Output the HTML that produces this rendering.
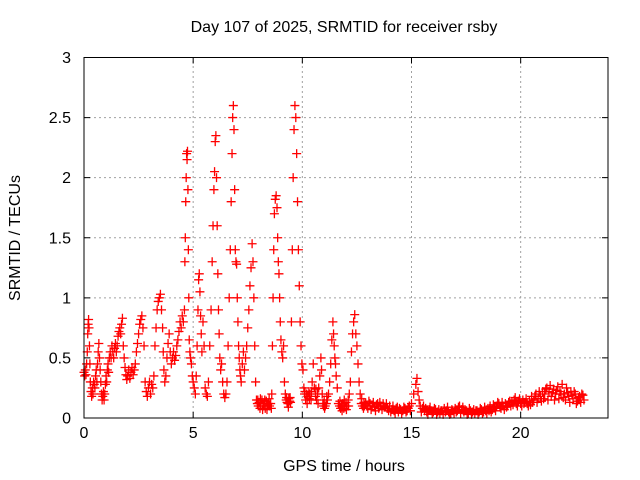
<!DOCTYPE html>
<html><head><meta charset="utf-8"><style>
body{margin:0;background:#fff;}
svg{display:block;font-family:"Liberation Sans",sans-serif;}
</style></head><body>
<svg id="chart" width="640" height="480" viewBox="0 0 640 480">
<rect width="640" height="480" fill="#fff"/>
<text x="344" y="32" font-size="16" text-anchor="middle" fill="#000">Day 107 of 2025, SRMTID for receiver rsby</text>
<g id="grid"></g>
<g id="marks"></g>
<rect x="84" y="57.5" width="524" height="360.5" fill="none" stroke="#000" stroke-width="1"/>
<g id="axes"></g>
<text x="344" y="471" font-size="16" text-anchor="middle">GPS time / hours</text>
<text transform="translate(20,238) rotate(-90)" font-size="16" text-anchor="middle">SRMTID / TECUs</text>
</svg>
<script>
const xTicks=[0,5,10,15,20];
const yTicks=[0,0.5,1,1.5,2,2.5,3];
const yTickLabels=["0","0.5","1","1.5","2","2.5","3"];
// samples: [GPS hour, SRMTID TECU]
const samples=[
[0,.38],[.03,.35],[.06,.4],[.09,.36],[.12,.45],[.15,.55],[.17,.7],[.19,.78],[.21,.82],[.23,.75],[.25,.6],[.27,.45],[.29,.3],[.32,.22],[.35,.18],[.38,.25],[.41,.2],[.44,.3],[.47,.28],[.5,.25],
[.53,.35],[.56,.4],[.59,.3],[.62,.45],[.65,.55],[.68,.62],[.71,.5],[.74,.4],[.77,.3],[.8,.2],[.83,.15],[.86,.18],[.89,.22],[.92,.15],[.95,.2],[.98,.28],
[1.01,.35],[1.04,.3],[1.07,.4],[1.1,.45],[1.13,.38],[1.16,.5],[1.2,.55],[1.24,.5],[1.28,.6],[1.32,.55],[1.36,.5],[1.4,.58],[1.44,.62],[1.48,.55],[1.52,.6],[1.56,.68],[1.6,.72],[1.64,.75],[1.68,.7],[1.72,.78],[1.76,.83],[1.8,.6],[1.84,.5],[1.88,.42],[1.92,.36],[1.96,.32],
[2.0,.35],[2.05,.4],[2.1,.33],[2.15,.38],[2.2,.42],[2.25,.36],[2.3,.4],[2.35,.45],[2.4,.55],[2.45,.62],[2.5,.7],[2.55,.78],[2.6,.82],[2.65,.85],[2.7,.75],[2.75,.6],[2.8,.3],[2.85,.22],[2.9,.18],[2.95,.25],
[3.0,.3],[3.05,.2],[3.1,.28],[3.15,.25],[3.2,.35],[3.25,.6],[3.3,.75],[3.35,.9],[3.4,.97],[3.45,1.0],[3.5,1.03],[3.55,.9],[3.6,.75],[3.63,.55],[3.66,.4],[3.7,.3],[3.75,.35],[3.8,.5],[3.85,.62],[3.9,.7],[3.95,.55],
[4.0,.45],[4.05,.5],[4.1,.55],[4.15,.48],[4.2,.52],[4.25,.6],[4.3,.65],[4.35,.72],[4.4,.8],[4.45,.75],[4.5,.85],[4.55,.8],[4.6,.9],[4.62,1.3],[4.64,1.5],[4.66,1.8],[4.68,2.0],[4.7,2.2],[4.72,2.15],[4.74,2.22],[4.76,1.9],[4.78,1.4],[4.8,1.0],[4.82,.65],[4.85,.55],[4.88,.5],[4.92,.45],[4.96,.35],
[5.0,.3],[5.05,.25],[5.1,.2],[5.14,.35],[5.18,.6],[5.22,.9],[5.25,1.15],[5.28,1.2],[5.31,1.05],[5.34,.85],[5.37,.7],[5.4,.55],[5.45,.8],[5.5,.6],[5.55,.25],[5.6,.2],[5.65,.18],[5.7,.3],[5.76,.6],[5.82,.9],[5.87,1.3],[5.91,1.6],[5.95,1.9],[5.98,2.05],[6.01,2.3],[6.04,2.35],[6.07,2.0],[6.1,1.6],[6.13,1.2],[6.16,.9],[6.19,.7],[6.22,.5],[6.26,.4],[6.3,.45],[6.35,.3],[6.4,.2],[6.45,.17],[6.5,.2],[6.55,.3],[6.6,.6],[6.65,1.0],[6.7,1.4],[6.74,1.8],[6.78,2.2],[6.81,2.5],[6.84,2.6],[6.87,2.4],[6.9,1.9],[6.93,1.4],[6.96,1.3],[6.99,1.28],[7.02,1.0],
[7.05,.8],[7.08,.6],[7.11,.5],[7.14,.4],[7.17,.35],[7.2,.3],[7.25,.45],[7.3,.55],[7.35,.4],[7.4,.5],[7.45,.6],[7.5,.75],[7.55,.9],[7.6,1.1],[7.65,1.25],[7.7,1.45],[7.74,1.3],[7.78,1.0],[7.82,.6],[7.86,.3],[7.9,.15],[7.94,.12],[7.98,.1],[8.02,.13],[8.06,.08],[8.1,.12],[8.15,.15],[8.2,.1],[8.25,.12],[8.3,.08],[8.35,.14],[8.4,.1],[8.45,.12],[8.5,.1],[8.55,.12],[8.6,.2],[8.63,.6],[8.66,1.0],[8.69,1.4],[8.72,1.7],[8.76,1.82],[8.8,1.85],[8.84,1.75],[8.87,1.5],[8.9,1.3],[8.93,1.2],[8.96,1.0],[8.99,.8],
[9.02,.65],[9.06,.55],[9.1,.5],[9.14,.6],[9.18,.3],[9.22,.2],[9.26,.15],[9.3,.13],[9.34,.12],[9.38,.16],[9.42,.14],[9.46,.13],[9.5,.8],[9.54,1.4],[9.58,2.0],[9.62,2.4],[9.66,2.6],[9.7,2.5],[9.74,2.2],[9.78,1.8],[9.82,1.4],[9.86,1.1],[9.9,.8],[9.94,.6],[9.98,.45],
[10.03,.4],[10.07,.25],[10.1,.2],[10.15,.15],[10.2,.2],[10.25,.18],[10.3,.22],[10.35,.2],[10.4,.15],[10.45,.3],[10.5,.45],[10.55,.25],[10.6,.18],[10.65,.15],[10.7,.2],[10.75,.25],[10.8,.35],[10.85,.5],[10.88,.4],[10.91,.2],[10.94,.12],[10.97,.1],
[11.0,.15],[11.05,.1],[11.1,.12],[11.15,.15],[11.2,.2],[11.25,.3],[11.3,.45],[11.35,.65],[11.4,.8],[11.43,.7],[11.46,.6],[11.49,.5],[11.52,.45],[11.55,.35],[11.6,.25],[11.65,.12],[11.7,.1],[11.75,.08],[11.8,.1],[11.85,.12],[11.9,.08],[11.95,.1],
[12.0,.13],[12.05,.1],[12.1,.15],[12.15,.2],[12.2,.3],[12.25,.55],[12.3,.7],[12.35,.8],[12.4,.86],[12.45,.7],[12.5,.6],[12.55,.45],[12.6,.3],[12.65,.2],[12.7,.12],[12.75,.1],[12.8,.08],[12.85,.1],[12.9,.12],[12.95,.1],
[13.0,.08],[13.1,.12],[13.2,.1],[13.3,.09],[13.4,.11],[13.5,.08],[13.6,.1],[13.7,.12],[13.8,.09],[13.9,.08],
[14.0,.1],[14.1,.07],[14.2,.06],[14.3,.08],[14.4,.05],[14.5,.07],[14.6,.06],[14.7,.08],[14.8,.06],[14.9,.1],[15.0,.12],[15.1,.2],[15.2,.28],[15.25,.33],[15.3,.22],[15.35,.15],[15.4,.1],[15.5,.08],[15.6,.06],[15.7,.05],[15.8,.07],[15.9,.06],
[16.0,.05],[16.1,.07],[16.2,.05],[16.3,.04],[16.4,.06],[16.5,.08],[16.6,.06],[16.7,.05],[16.8,.04],[16.9,.06],[17.0,.08],[17.1,.06],[17.2,.1],[17.3,.07],[17.4,.05],[17.5,.06],[17.6,.04],[17.7,.06],[17.8,.05],[17.9,.04],
[18.0,.06],[18.1,.05],[18.2,.07],[18.3,.05],[18.4,.06],[18.5,.08],[18.6,.1],[18.7,.07],[18.8,.09],[18.9,.1],[19.0,.12],[19.1,.08],[19.2,.1],[19.3,.12],[19.4,.1],[19.5,.14],[19.6,.13],[19.7,.15],[19.8,.12],[19.9,.14],
[20.0,.12],[20.1,.15],[20.2,.13],[20.3,.12],[20.4,.14],[20.5,.18],[20.6,.15],[20.7,.2],[20.8,.16],[20.9,.18],[21.0,.22],[21.1,.2],[21.2,.25],[21.3,.22],[21.4,.18],[21.5,.24],[21.6,.2],[21.7,.26],[21.8,.22],[21.9,.28],
[22.0,.2],[22.1,.25],[22.2,.18],[22.3,.22],[22.4,.16],[22.5,.2],[22.6,.14],[22.7,.18],[22.8,.2],[22.9,.15],
[13.05,.14],[13.15,.07],[13.25,.13],[13.35,.06],[13.45,.12],[13.55,.13],[13.65,.07],[13.75,.09],[13.85,.12],[13.95,.06],
[14.05,.05],[14.15,.1],[14.25,.04],[14.35,.09],[14.45,.08],[14.55,.04],[14.65,.09],[14.75,.05],[14.85,.08],[14.95,.06],
[15.45,.05],[15.55,.1],[15.65,.08],[15.75,.03],[15.85,.09],[15.95,.04],[16.05,.08],[16.15,.03],[16.25,.07],[16.35,.06],
[16.45,.03],[16.55,.05],[16.65,.09],[16.75,.03],[16.85,.07],[16.95,.04],[17.05,.05],[17.15,.09],[17.25,.04],[17.35,.09],
[17.45,.07],[17.55,.03],[17.65,.08],[17.75,.03],[17.85,.07],[17.95,.06],[18.05,.03],[18.15,.08],[18.25,.04],[18.35,.09],
[18.45,.04],[18.55,.06],[18.65,.05],[18.75,.11],[18.85,.06],[18.95,.13],[19.05,.09],[19.15,.13],[19.25,.07],[19.35,.09],
[19.45,.13],[19.55,.1],[19.65,.11],[19.75,.17],[19.85,.1],[19.95,.16],[20.05,.1],[20.15,.12],[20.25,.16],[20.35,.1],
[20.45,.11],[20.55,.13],[20.65,.18],[20.75,.13],[20.85,.22],[20.95,.14],[21.05,.16],[21.15,.24],[21.25,.15],[21.35,.27],
[21.45,.21],[21.55,.15],[21.65,.23],[21.75,.16],[21.85,.2],[21.95,.17],[22.05,.15],[22.15,.21],[22.25,.13],[22.35,.19],
[22.45,.22],[22.55,.12],[22.65,.17],[22.75,.13],[22.85,.19],
[10.12,.22],[10.22,.12],[10.32,.16],[10.42,.22],[10.62,.24],[10.72,.12],[11.02,.08],[11.12,.18],[11.72,.14],[11.82,.06],[11.92,.15],[12.02,.07],[12.12,.1],[12.72,.16],[12.82,.13],
[7.96,.15],[8.08,.16],[8.18,.07],[8.28,.15],[8.38,.07],[8.48,.16],[8.58,.08],[9.28,.17],[9.36,.09],[9.44,.17]];
const X0=84,XW=524,XMAX=24,Y0=418,YH=360.5,YMAX=3;
function xs(h){return X0+h/XMAX*XW;}
function ys(v){return Y0-v/YMAX*YH;}
const NS="http://www.w3.org/2000/svg";
const grid=document.getElementById('grid'),axes=document.getElementById('axes'),marks=document.getElementById('marks');
function mk(tag,attrs,parent){const e=document.createElementNS(NS,tag);for(const k in attrs)e.setAttribute(k,attrs[k]);parent.appendChild(e);return e;}
xTicks.forEach(t=>{
  const x=xs(t);
  if(t>0){const g=mk('line',{x1:x,y1:Y0,x2:x,y2:57.5,stroke:'#a0a0a0','stroke-dasharray':'2,3'},grid);
  
  }
  const tk=mk('path',{d:`M${x},${Y0}v-6M${x},57.5v6`,stroke:'#000'},axes);
  
  
  const l=mk('text',{x:x,y:Y0+20,'font-size':16,'text-anchor':'middle'},axes);l.textContent=t;
  
  
});
yTicks.forEach((t,i)=>{
  const y=ys(t);
  if(t>0&&t<YMAX){const g=mk('line',{x1:X0,y1:y,x2:X0+XW,y2:y,stroke:'#a0a0a0','stroke-dasharray':'2,3'},grid);
  
  }
  const tk=mk('path',{d:`M${X0},${y}h6M${X0+XW},${y}h-6`,stroke:'#000'},axes);
  
  
  const l=mk('text',{x:X0-13,y:y+5.5,'font-size':16,'text-anchor':'end'},axes);l.textContent=yTickLabels[i];
  
  
});
samples.forEach(s=>{
  const x=xs(s[0]),y=ys(s[1]);
  const p=mk('path',{d:`M${x-4.5},${y}h9M${x},${y-4.5}v9`,stroke:'#ff0000','stroke-width':1.3},marks);
  
  
});
</script>
</body></html>
